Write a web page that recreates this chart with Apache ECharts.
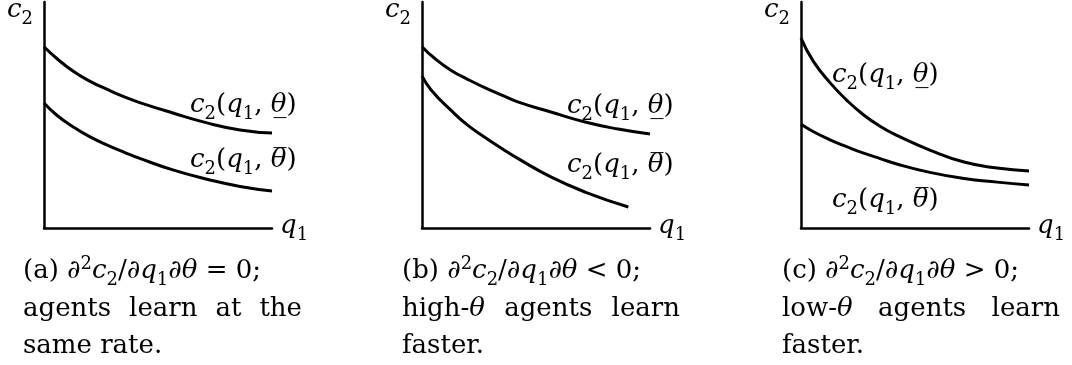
<!DOCTYPE html>
<html>
<head>
<meta charset="utf-8">
<script src="https://cdn.jsdelivr.net/npm/echarts@6/dist/echarts.min.js"></script>
<style>
  html, body { margin: 0; padding: 0; background: #fff; }
  #chart { width: 1072px; height: 365px; }
</style>
</head>
<body>
<div id="chart"></div>
<script>
// q1 positions (0..100 along each x-axis) and c2 values (0..100 up each y-axis)
const qGrid = [0, 5.5, 13, 20, 27.5, 35, 42, 56.5, 71.5, 86, 100]

const aLowTheta = [80.2, 75.1, 69.2, 65.0, 61.4, 58.1, 55.5, 50.9, 46.5, 43.4, 42.0]
const aHighTheta = [55.3, 50.0, 44.6, 40.4, 36.8, 33.6, 30.8, 25.7, 21.6, 18.4, 16.4]

const bLowTheta = [80.2, 75.1, 69.6, 65.8, 62.1, 58.8, 55.8, 51.3, 46.9, 43.8, 41.6]
const bHighQ = [0, 4, 13, 20, 27.5, 35, 42, 56.5, 71.5, 90.5]
const bHighTheta = [67.3, 61.1, 51.8, 45.5, 40.2, 35.2, 30.8, 22.6, 15.9, 9.3]

const cLowTheta = [84.0, 73.6, 64.0, 56.6, 50.0, 44.8, 41.0, 34.5, 29.2, 26.5, 25.2]
const cHighTheta = [45.9, 42.6, 38.9, 36.0, 33.1, 30.6, 28.3, 24.6, 21.9, 20.3, 19.0]

const lowLabel = '{i|c}{s|2}({i|q}{s|1}, {i|θ\u0332})'
const highLabel = '{i|c}{s|2}({i|q}{s|1}, {i|θ\u0305})'

const captions = [
  ['(a) {i|∂}{p|2}{i|c}{s|2}/{i|∂q}{s|1}{i|∂θ} = 0;', ['agents', 'learn', 'at', 'the'], 'same rate.'],
  ['(b) {i|∂}{p|2}{i|c}{s|2}/{i|∂q}{s|1}{i|∂θ} < 0;', ['high-{i|θ}', 'agents', 'learn'], 'faster.'],
  ['(c) {i|∂}{p|2}{i|c}{s|2}/{i|∂q}{s|1}{i|∂θ} > 0;', ['low-{i|θ}', 'agents', 'learn'], 'faster.'],
]

const FONT = 'DejaVu Serif'
const FS = 26

const panels = [
  { left: 44, low: [qGrid, aLowTheta], high: [qGrid, aHighTheta], lowAt: [190, 105], highAt: [190, 160], capX: [23, 302] },
  { left: 422, low: [qGrid, bLowTheta], high: [bHighQ, bHighTheta], lowAt: [567, 106], highAt: [567, 165], capX: [402, 680] },
  { left: 801, low: [qGrid, cLowTheta], high: [qGrid, cHighTheta], lowAt: [832, 75], highAt: [832, 200], capX: [782, 1060] },
]

const RICH = {
  i: { fontStyle: 'italic', fontFamily: FONT, fontSize: FS, fill: '#000' },
  s: { fontFamily: FONT, fontSize: 18, fill: '#000', lineHeight: 12, padding: [18, 0, 0, 0] },
  p: { fontFamily: FONT, fontSize: 18, fill: '#000', lineHeight: 12, padding: [0, 0, 14, 0] },
}

function textEl(text, x, y) {
  return {
    type: 'text', x, y, silent: true,
    style: {
      text, fontFamily: FONT, fontSize: FS, fill: '#000',
      align: 'left', textAlign: 'left', verticalAlign: 'middle', textVerticalAlign: 'middle',
      rich: RICH,
    },
  }
}

const measureCtx = document.createElement('canvas').getContext('2d')
function textWidth(s) {
  let w = 0
  s.replace(/\{i\|([^}]*)\}|([^{]+)/g, (m, it, plain) => {
    measureCtx.font = (it ? 'italic ' : '') + FS + 'px "' + FONT + '"'
    w += measureCtx.measureText(it || plain).width
    return m
  })
  return w
}

function justified(words, x0, x1, y) {
  const ws = words.map(textWidth)
  const gap = (x1 - x0 - ws.reduce((a, b) => a + b, 0)) / (words.length - 1)
  let x = x0
  return words.map((w, k) => {
    const el = textEl(w, x, y)
    x += ws[k] + gap
    return el
  })
}

const zip = (xs, ys) => ys.map((v, k) => [xs[k], v])

const axisBase = {
  type: 'value', min: 0, max: 100,
  axisLine: { show: true, onZero: false, lineStyle: { color: '#000', width: 2.5 } },
  axisTick: { show: false },
  axisLabel: { show: false },
  splitLine: { show: false },
}

const lineBase = {
  type: 'line', smooth: 0.5, showSymbol: false, silent: true,
  lineStyle: { color: '#000', width: 3 },
}

const graphics = []
panels.forEach((p, k) => {
  graphics.push(textEl('{i|c}{s|2}', p.left - 37, 10))
  graphics.push(textEl('{i|q}{s|1}', p.left + 236, 226))
  graphics.push(textEl(lowLabel, p.lowAt[0], p.lowAt[1]))
  graphics.push(textEl(highLabel, p.highAt[0], p.highAt[1]))
  const [l1, l2, l3] = captions[k]
  graphics.push(textEl(l1, p.capX[0], 271))
  graphics.push(...justified(l2, p.capX[0], p.capX[1], 309))
  graphics.push(textEl(l3, p.capX[0], 346))
})

const option = {
  animation: false,
  backgroundColor: '#fff',
  grid: panels.map((p) => ({ left: p.left, top: 2, width: 228, height: 226 })),
  xAxis: panels.map((p, k) => ({ ...axisBase, gridIndex: k })),
  yAxis: panels.map((p, k) => ({ ...axisBase, gridIndex: k })),
  series: panels.flatMap((p, k) => [
    { ...lineBase, name: 'low', xAxisIndex: k, yAxisIndex: k, data: zip(p.low[0], p.low[1]) },
    { ...lineBase, name: 'high', xAxisIndex: k, yAxisIndex: k, data: zip(p.high[0], p.high[1]) },
  ]),
  graphic: graphics,
}

const chart = echarts.init(document.getElementById('chart'))
chart.setOption(option)
</script>
</body>
</html>
